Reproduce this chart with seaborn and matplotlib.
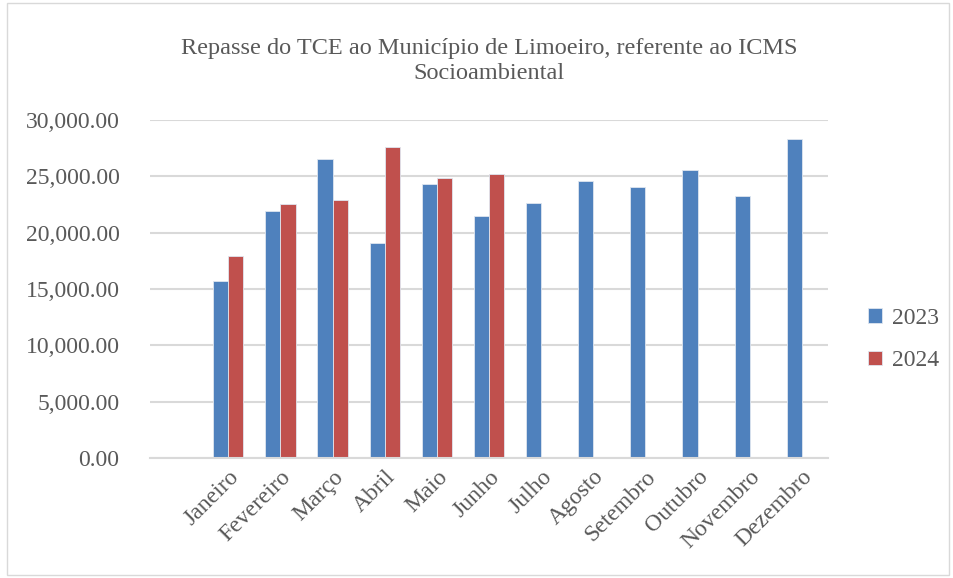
import matplotlib
matplotlib.use("Agg")
import matplotlib.pyplot as plt
import seaborn as sns
import pandas as pd
import numpy as np
from matplotlib.ticker import FuncFormatter
from matplotlib.patches import Rectangle

months = ["Janeiro", "Fevereiro", "Março", "Abril", "Maio", "Junho", "Julho",
          "Agosto", "Setembro", "Outubro", "Novembro", "Dezembro"]
v2023 = [15670, 21930, 26560, 19080, 24360, 21450, 22610, 24570, 24070, 25550, 23290, 28280]
v2024 = [17950, 22520, 22880, 27570, 24840, 25250, np.nan, np.nan, np.nan, np.nan, np.nan, np.nan]
series = ["2023", "2024"]
title = "Repasse do TCE ao Município de Limoeiro, referente ao ICMS\nSocioambiental"
yticks = [0, 5000, 10000, 15000, 20000, 25000, 30000]

df = pd.DataFrame({
    "Mês": months * 2,
    "Valor": v2023 + v2024,
    "Ano": [series[0]] * 12 + [series[1]] * 12,
})

sns.set_theme(style="white")
plt.rcParams["font.family"] = ["Liberation Serif", "DejaVu Serif"]
txt = "#595959"

fig = plt.figure(figsize=(9.54, 5.78), dpi=100)
ax = fig.add_axes([150 / 954, 1 - 458 / 578, (828 - 150) / 954, (458 - 120) / 578])

sns.barplot(data=df, x="Mês", y="Valor", hue="Ano", order=months,
            palette=["#4F81BD", "#C0504D"], width=0.58, ax=ax,
            edgecolor="#dfe6f0", linewidth=0.6, saturation=1, legend=True)

ax.set_xlim(-1.5, 11.5)
ax.set_ylim(0, 30000)
ax.set_yticks(yticks)
ax.yaxis.set_major_formatter(FuncFormatter(lambda v, p: f"{v:,.2f}"))
ax.grid(axis="y", color="#d9d9d9", linewidth=1.5)
ax.set_axisbelow(True)
for s in ["top", "right", "left"]:
    ax.spines[s].set_visible(False)
ax.spines["bottom"].set_color("#d9d9d9")
ax.spines["bottom"].set_linewidth(1.5)
ax.set_xlabel("")
ax.set_ylabel("")
ax.tick_params(axis="y", labelsize=17, labelcolor=txt, length=0, pad=22)
ax.tick_params(axis="x", labelsize=17, labelcolor=txt, length=0, pad=6)
for lab in ax.get_xticklabels():
    lab.set_rotation(45)
    lab.set_ha("right")
    lab.set_rotation_mode("anchor")

leg = ax.legend(loc="center left", bbox_to_anchor=(1.028, 0.35), frameon=False,
                fontsize=17, labelcolor=txt, handlelength=0.6, handleheight=0.6,
                handletextpad=0.4, labelspacing=0.9)

fig.text(489 / 954, 1 - 61 / 578, title, ha="center", va="center", fontsize=17.5,
         color=txt, linespacing=1.2)

fig.patches.append(Rectangle((0.007, 0.005), 0.988, 0.99, transform=fig.transFigure,
                             fill=False, edgecolor="#d9d9d9", linewidth=1))

fig.savefig("out.png", dpi=100)
